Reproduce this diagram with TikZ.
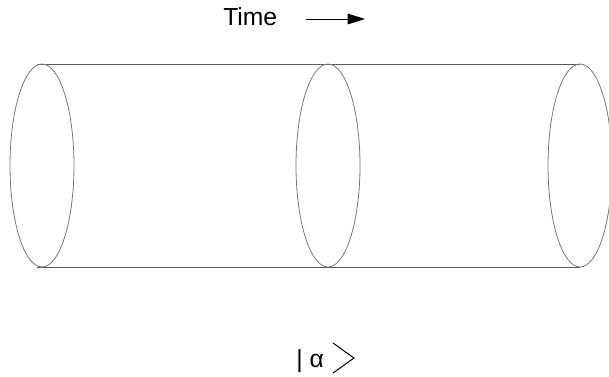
\documentclass[tikz,border=0pt]{standalone}
\usepackage{fontspec}
\setmainfont{Liberation Sans}
\usetikzlibrary{arrows.meta}
\tikzset{
  rim/.style={draw={rgb, 255:red, 120; green, 120; blue, 120}, line width=0.6pt},
  side/.style={draw={rgb, 255:red, 90; green, 90; blue, 90}, line width=0.75pt},
  label/.style={anchor=base west, inner sep=0.75pt, font=\fontsize{18.5}{20}\selectfont}
}
\begin{document}
\begin{tikzpicture}[x=0.75pt,y=0.75pt,yscale=-1,xscale=1]
\useasboundingbox (0,0) rectangle (609,376);

%Straight Lines [id:top]
\draw [side]   (37,64) -- (580,64) ;
%Straight Lines [id:bottom]
\draw [side]   (37,267) -- (580,267) ;
%Shape: Ellipse [id:left]
\draw [rim]  (42,165.5) ellipse [x radius=32, y radius=101.5] ;
%Shape: Ellipse [id:middle]
\draw [rim]  (328,165.5) ellipse [x radius=32, y radius=101.5] ;
%Shape: Ellipse [id:right]
\draw [rim]  (580,165.5) ellipse [x radius=32, y radius=101.5] ;

% Text Node
\node [label] (time) at (222,25) {Time};
\coordinate (tstart) at (306,19);
\coordinate (tend) at (365,19);
%Straight Lines [id:arrow]
\draw [line width=0.75pt, -{Triangle[length=13pt,width=8pt]}]   (tstart) -- (tend) ;

% Text Node
\node [label] (ket) at (295,367) {| α};
\coordinate (kup) at (333,343);
\coordinate (ktip) at (354,358);
\coordinate (klow) at (333,373);
%Straight Lines [id:chevron]
\draw [line width=0.75pt]   (kup) -- (ktip) -- (klow) ;
\end{tikzpicture}
\end{document}
